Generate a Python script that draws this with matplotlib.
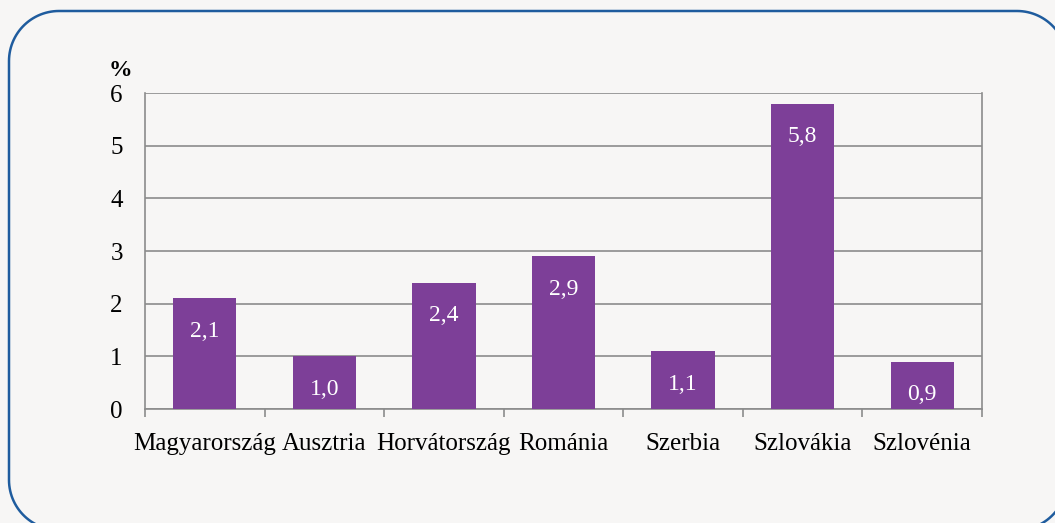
import numpy as np
import matplotlib.pyplot as plt
from matplotlib.patches import PathPatch
from matplotlib.path import Path
from matplotlib.transforms import IdentityTransform

# data
countries = ['Magyarország', 'Ausztria', 'Horvátország', 'Románia',
             'Szerbia', 'Szlovákia', 'Szlovénia']
values = [2.1, 1.0, 2.4, 2.9, 1.1, 5.8, 0.9]
yticks = [0, 1, 2, 3, 4, 5, 6]

bg = '#f7f6f5'
purple = '#7d3f98'
grid = '#8c8c8c'

plt.rcParams['font.family'] = ['Liberation Serif', 'DejaVu Serif']

W, H = 1055, 523
fig = plt.figure(figsize=(W / 100, H / 100), dpi=100, facecolor=bg)


def rounded_rect(x0, y0, x1, y1, r, n=30):
    # pixel coords, origin bottom-left
    pts = []
    corners = [(x1 - r, y1 - r, 0), (x0 + r, y1 - r, 90),
               (x0 + r, y0 + r, 180), (x1 - r, y0 + r, 270)]
    for cx, cy, a0 in corners:
        a = np.radians(np.linspace(a0, a0 + 90, n))
        pts += list(zip(cx + r * np.cos(a), cy + r * np.sin(a)))
    pts.append(pts[0])
    return Path(pts)


frame = PathPatch(rounded_rect(9, H - 530, 1067, H - 11, 50),
                  transform=IdentityTransform(), facecolor='none',
                  edgecolor='#1f5c9e', linewidth=1.8)
fig.patches.append(frame)

ax = fig.add_axes([145 / W, 1 - 409 / H, (982 - 145) / W, (409 - 93) / H])
ax.set_facecolor(bg)

x = range(len(countries))
ax.bar(x, values, width=0.53, color=purple, zorder=3)

for i, v in enumerate(values):
    ax.annotate(f'{v:.1f}'.replace('.', ','), (i, v), xytext=(0, -33),
                textcoords='offset pixels', ha='center', va='center',
                color='white', fontsize=17, zorder=4)

ax.set_xlim(-0.5, len(countries) - 0.5)
ax.set_ylim(0, 6)
ax.set_yticks(yticks)
ax.set_yticklabels([str(t) for t in yticks], fontsize=18)
ax.yaxis.grid(True, color=grid, linewidth=1.2, zorder=0)
ax.tick_params(axis='y', length=0, pad=16)

ax.set_xticks(x)
ax.set_xticklabels(countries, fontsize=18)
ax.set_xticks([i - 0.5 for i in range(len(countries) + 1)], minor=True)
ax.tick_params(axis='x', which='major', length=0, pad=17)
ax.tick_params(axis='x', which='minor', length=6, color=grid, width=1.2,
               direction='out')

for s in ['left', 'bottom', 'right']:
    ax.spines[s].set_color(grid)
    ax.spines[s].set_linewidth(1.2)
ax.spines['top'].set_visible(False)

fig.text(120 / W, 1 - 71 / H, '%', fontsize=17, fontweight='bold',
         ha='center', va='center')

fig.savefig('out.png', dpi=100, facecolor=bg)
